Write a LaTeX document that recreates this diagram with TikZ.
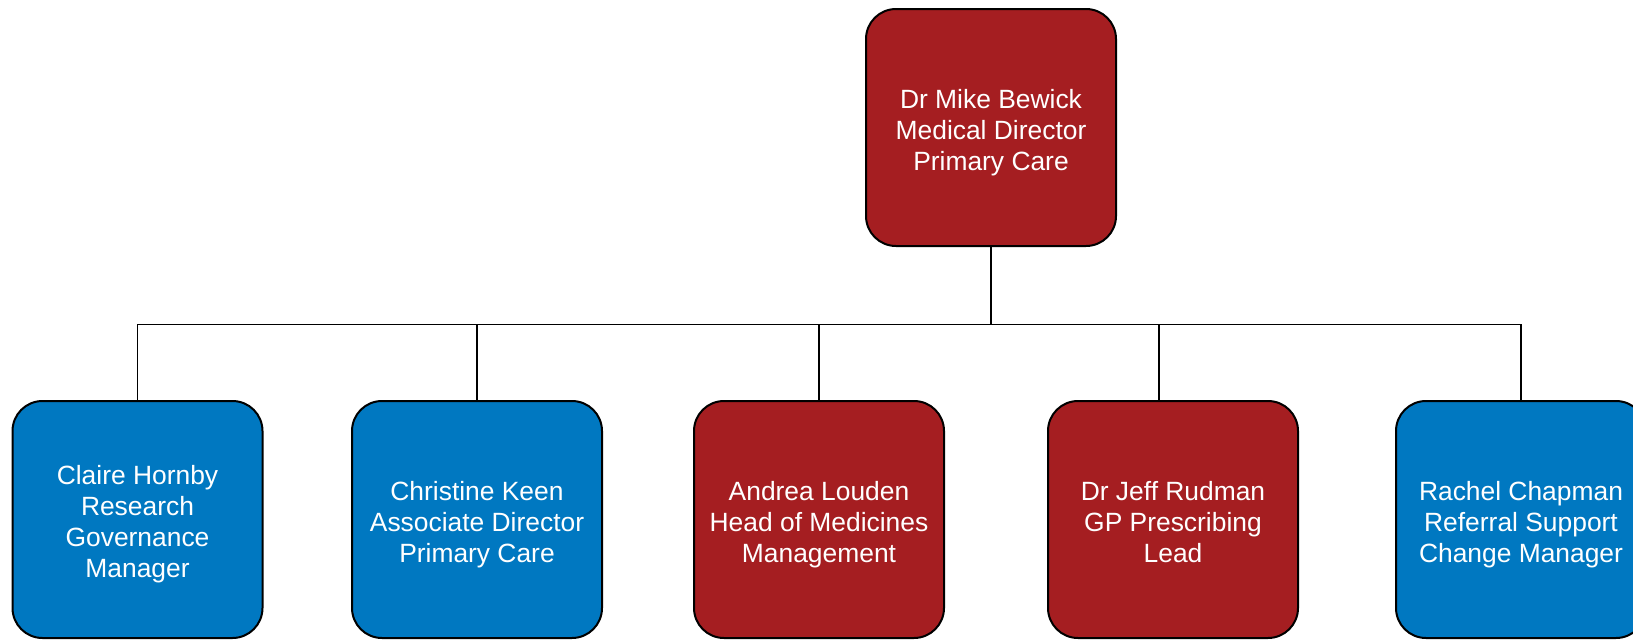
\documentclass[tikz,border=0pt]{standalone}
\usepackage{fontspec}
\setmainfont{Liberation Sans}
\definecolor{chartred}{HTML}{A51E21}
\definecolor{chartblue}{HTML}{0078C1}
\begin{document}
\begin{tikzpicture}[x=1pt,y=-1pt,
  person/.style={draw=black, line width=2pt, rounded corners=30pt,
    minimum width=250pt, minimum height=237pt, inner sep=0pt,
    text height=91pt, text depth=5.5pt,
    text=white, align=center, font=\fontsize{26.4}{31}\selectfont},
  fourlines/.style={text height=122pt},
  redbox/.style={person, fill=chartred},
  bluebox/.style={person, fill=chartblue},
  link/.style={draw=black, line width=1.8pt}]
\useasboundingbox (0,0) rectangle (1633,640);

% director
\node[redbox] (top) at (991,127.5) {Dr Mike Bewick\\Medical Director\\Primary Care};

% direct reports
\node[bluebox, fourlines] (c1) at (137.5,519.5) {Claire Hornby\\Research\\Governance\\Manager};
\node[bluebox] (c2) at (477,519.5) {Christine Keen\\Associate Director\\Primary Care};
\node[redbox]  (c3) at (819,519.5) {Andrea Louden\\Head of Medicines\\Management};
\node[redbox]  (c4) at (1173,519.5) {Dr Jeff Rudman\\GP Prescribing\\Lead};
\node[bluebox] (c5) at (1521,519.5) {Rachel Chapman\\Referral Support\\Change Manager};

% bus line between the levels
\coordinate (bus) at (0,324.5);
\coordinate (c4in) at (1159,400);

\draw[link] (top.south) -- (top.south |- bus);
\draw[link] (c1.north) -- (c1.north |- bus) -- (c5.north |- bus) -- (c5.north);
\draw[link] (c2.north) -- (c2.north |- bus);
\draw[link] (c3.north) -- (c3.north |- bus);
\draw[link] (c4in) -- (c4in |- bus);
\end{tikzpicture}
\end{document}
